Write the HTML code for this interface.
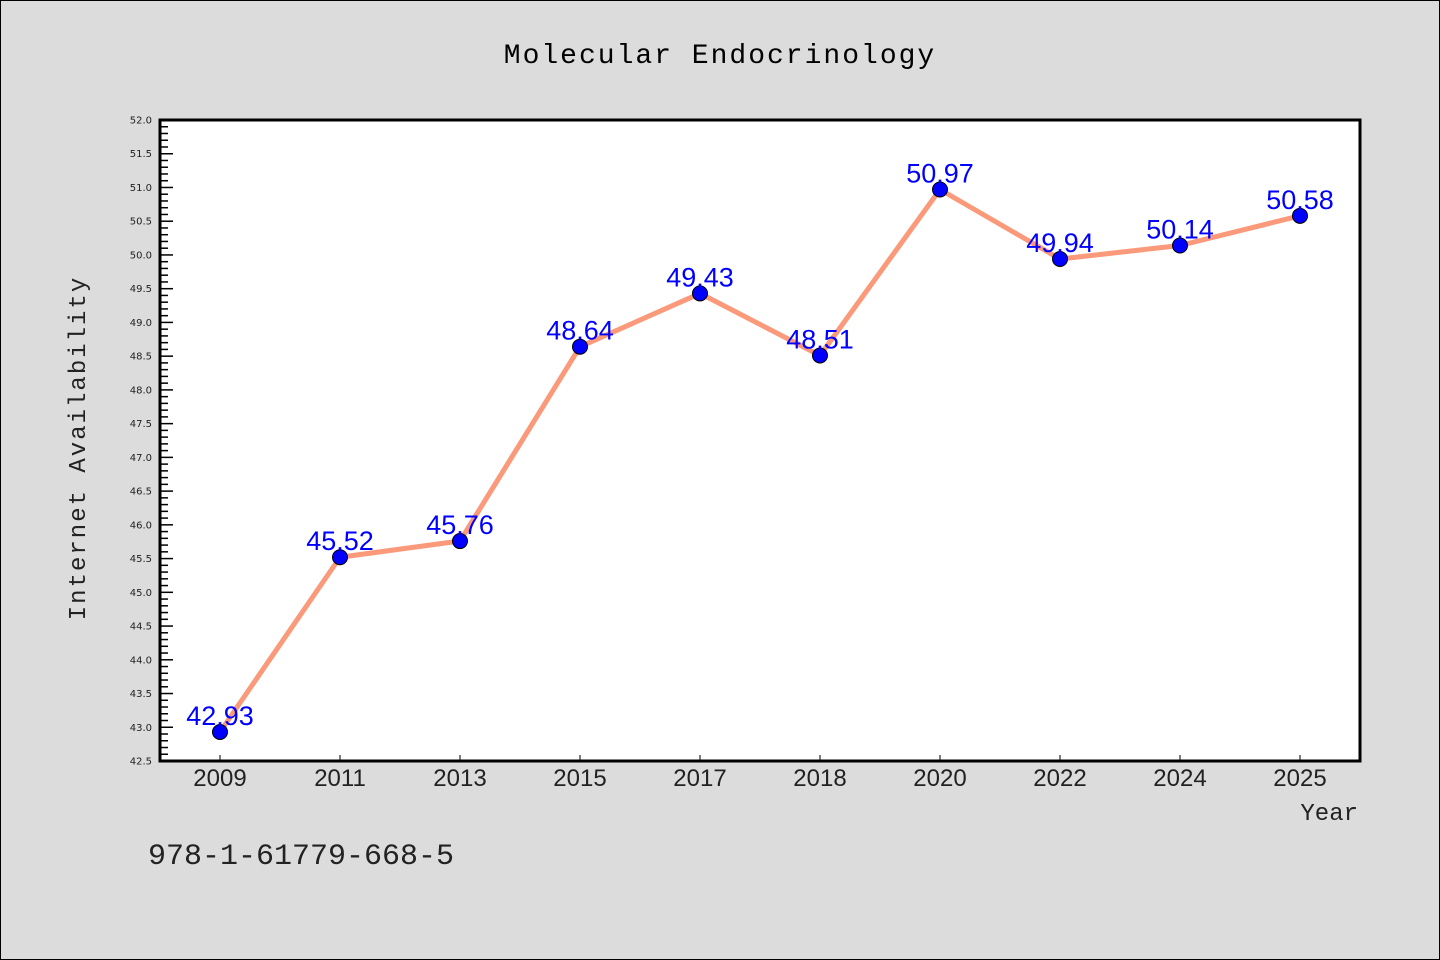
<!DOCTYPE html>
<html><head><meta charset="utf-8"><style>
html,body{margin:0;padding:0;background:#dcdcdc;}
svg{display:block;}
</style></head><body>
<svg id="chart" width="1440" height="960" xmlns="http://www.w3.org/2000/svg">
<rect x="0.5" y="0.5" width="1439" height="959" fill="#dcdcdc" stroke="#000" stroke-width="1"/>
<text x="720" y="63" text-anchor="middle" font-family="'WenQuanYi Zen Hei','Liberation Mono',monospace" font-size="28" letter-spacing="2" fill="#000">Molecular Endocrinology</text>
<rect x="160" y="120" width="1200" height="641" fill="#fff"/>
<g id="yaxis"></g>
<g id="xaxis"></g>
<g id="series"></g>
<rect x="160" y="120" width="1200" height="641" fill="none" stroke="#000" stroke-width="3"/>
<text transform="translate(85,448) rotate(-90)" text-anchor="middle" font-family="'WenQuanYi Zen Hei','Liberation Mono',monospace" font-size="24" letter-spacing="2" fill="#222">Internet Availability</text>
<text x="1358" y="820" text-anchor="end" font-family="'WenQuanYi Zen Hei','Liberation Mono',monospace" font-size="24" fill="#222">Year</text>
<text x="148" y="864" font-family="'WenQuanYi Zen Hei','Liberation Mono',monospace" font-size="30" fill="#222">978-1-61779-668-5</text>
</svg>
<script>
const categories = ["2009","2011","2013","2015","2017","2018","2020","2022","2024","2025"];
const values = [42.93,45.52,45.76,48.64,49.43,48.51,50.97,49.94,50.14,50.58];
const valueLabels = ["42.93","45.52","45.76","48.64","49.43","48.51","50.97","49.94","50.14","50.58"];
const yTicks = ["42.5","43.0","43.5","44.0","44.5","45.0","45.5","46.0","46.5","47.0","47.5","48.0","48.5","49.0","49.5","50.0","50.5","51.0","51.5","52.0"];
const NS="http://www.w3.org/2000/svg";
const L=160,R=1360,T=120,B=761,yMin=42.5,yMax=52.0;
const y=v=>B-(v-yMin)/(yMax-yMin)*(B-T);
const x=i=>L+(R-L)/categories.length*(i+0.5);
function mk(tag,attrs,parent){const e=document.createElementNS(NS,tag);for(const k in attrs)e.setAttribute(k,attrs[k]);parent.appendChild(e);return e;}
const ya=document.getElementById('yaxis'),xa=document.getElementById('xaxis'),sg=document.getElementById('series');
for(let m=Math.round(yMin*10);m<=Math.round(yMax*10);m++){
  const v=m/10,major=m%5===0;
  const t=mk('line',{x1:L,x2:L+(major?13:8),y1:y(v),y2:y(v),stroke:'#000','stroke-width':1.5},ya);
  
  
}
yTicks.forEach(s=>{
  const t=mk('text',{x:L-8,y:y(parseFloat(s))+3.5,'text-anchor':'end','font-family':"'DejaVu Sans',sans-serif",'font-size':10,fill:'#222'},ya);
  t.textContent=s;
  
  
});
categories.forEach((c,i)=>{
  const tk=mk('line',{x1:x(i),x2:x(i),y1:B,y2:B-6,stroke:'#000','stroke-width':1},xa);
  
  
  const t=mk('text',{x:x(i),y:B+25,'text-anchor':'middle','font-family':"'WenQuanYi Zen Hei','Liberation Sans',sans-serif",'font-size':24,fill:'#222'},xa);
  t.textContent=c;
  
  
});
const line=mk('polyline',{points:values.map((v,i)=>x(i)+','+y(v)).join(' '),fill:'none',stroke:'#fa9a7a','stroke-width':5,'stroke-linejoin':'round'},sg);


values.forEach((v,i)=>{
  const c=mk('circle',{cx:x(i),cy:y(v),r:7.5,fill:'#0000ff',stroke:'#000','stroke-width':1},sg);
  
  
});
values.forEach((v,i)=>{
  const t=mk('text',{x:x(i),y:y(v)-7,'text-anchor':'middle','font-family':"'Liberation Sans',sans-serif",'font-size':27,fill:'#0000ff'},sg);
  t.textContent=valueLabels[i];
  
  
});
</script>
</body></html>
